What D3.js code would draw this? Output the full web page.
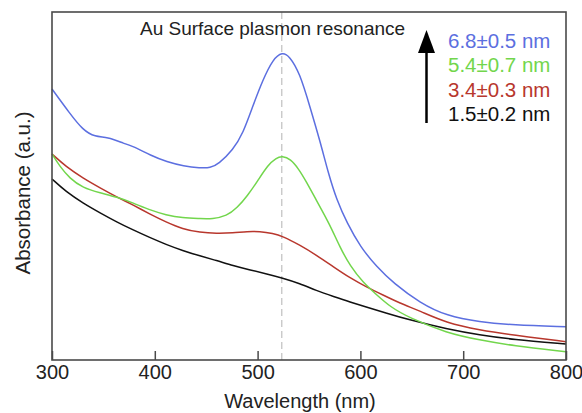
<!DOCTYPE html>
<html><head><meta charset="utf-8">
<script src="https://cdn.jsdelivr.net/npm/d3@7"></script>
<style>
html,body{margin:0;padding:0;background:#fff;}
svg{display:block;font-family:"Liberation Sans",Arial,sans-serif;}
</style></head>
<body><svg id="chart" width="582" height="413"></svg>
<script>
// ---- data (arbitrary absorbance units) ----
const xTicks = [300, 400, 500, 600, 700, 800];
const xLabel = "Wavelength (nm)";
const yLabel = "Absorbance (a.u.)";
const annotation = "Au Surface plasmon resonance";
const sprPeak = 523.5;

const seriesNames = ["6.8\u00b10.5 nm", "5.4\u00b10.7 nm", "3.4\u00b10.3 nm", "1.5\u00b10.2 nm"];
const seriesColors = ["#5c6fe0", "#72d64c", "#b8372d", "#111111"];

const blue68 = [[300,2.71],[317,2.47],[330,2.30],[342,2.23],[354,2.23],[369,2.17],[383,2.12],[395,2.05],[412,1.98],[428,1.94],[444,1.92],[454,1.92],[462,1.96],[476,2.10],[486,2.27],[495,2.53],[505,2.80],[515,3.01],[524,3.08],[531,3.04],[541,2.87],[551,2.53],[561,2.18],[569,1.86],[577,1.60],[587,1.37],[600,1.13],[616,0.93],[632,0.77],[658,0.57],[684,0.44],[716,0.38],[748,0.35],[800,0.333]];
const green54 = [[300,2.06],[308,1.93],[317,1.82],[330,1.72],[347,1.67],[363,1.63],[379,1.57],[395,1.50],[411,1.45],[427,1.42],[444,1.415],[456,1.41],[470,1.44],[480,1.52],[490,1.64],[500,1.79],[510,1.95],[518,2.02],[524,2.04],[532,2.01],[540,1.91],[547,1.79],[557,1.60],[570,1.36],[580,1.13],[590,0.94],[603,0.77],[614,0.67],[629,0.53],[648,0.42],[684,0.27],[716,0.20],[748,0.143],[800,0.083]];
const red34 = [[300,2.06],[314,1.93],[330,1.82],[347,1.72],[363,1.63],[379,1.55],[395,1.46],[411,1.38],[427,1.31],[444,1.275],[460,1.265],[476,1.27],[490,1.285],[502,1.285],[515,1.265],[524,1.24],[541,1.15],[557,1.05],[574,0.93],[590,0.82],[606,0.73],[622,0.65],[638,0.57],[658,0.49],[684,0.37],[716,0.30],[748,0.25],[800,0.183]];
const black15 = [[300,1.81],[314,1.68],[330,1.57],[347,1.47],[363,1.38],[379,1.30],[395,1.225],[411,1.155],[427,1.095],[444,1.04],[460,0.995],[476,0.945],[493,0.90],[509,0.86],[524,0.82],[541,0.765],[557,0.695],[574,0.635],[590,0.58],[606,0.53],[625,0.47],[648,0.40],[684,0.31],[716,0.25],[748,0.205],[800,0.16]];
const seriesData = [blue68, green54, red34, black15];

// ---- layout ----
const svg = d3.select("#chart");
const L = 52, R = 566, T = 12, B = 360;
const x = d3.scaleLinear().domain([300, 800]).range([L, R]);
const y = d3.scaleLinear().domain([0, 3.48]).range([B, T]);

// dashed SPR line
svg.append("line")
  .attr("x1", x(sprPeak)).attr("x2", x(sprPeak))
  .attr("y1", T).attr("y2", B)
  .attr("stroke", "#c4c4c4").attr("stroke-width", 1.3)
  .attr("stroke-dasharray", "7,4");

// curves
const line = d3.line().x(d => x(d[0])).y(d => y(d[1])).curve(d3.curveBasis);
[3, 2, 1, 0].forEach(i => {
  svg.append("path").datum(seriesData[i])
    .attr("d", line).attr("fill", "none")
    .attr("stroke", seriesColors[i]).attr("stroke-width", 1.5);
});

// frame
svg.append("rect").attr("x", L).attr("y", T).attr("width", R - L).attr("height", B - T)
  .attr("fill", "none").attr("stroke", "#4a4a4a").attr("stroke-width", 1.6);

// x axis with inward ticks
const xAxis = d3.axisBottom(x).tickValues(xTicks).tickSize(-9).tickPadding(5).tickFormat(d3.format("d"));
const gx = svg.append("g").attr("transform", `translate(0,${B})`).call(xAxis);
gx.select(".domain").remove();
gx.selectAll(".tick line").attr("stroke", "#4a4a4a").attr("stroke-width", 1.5);
gx.selectAll(".tick text").attr("font-size", 20).attr("fill", "#222")
  .attr("font-family", "Liberation Sans, Arial, sans-serif");

// axis labels
svg.append("text").attr("x", 300).attr("y", 408)
  .attr("text-anchor", "middle").attr("font-size", 20).attr("fill", "#222").text(xLabel);
svg.append("text").attr("transform", `translate(30,193) rotate(-90)`)
  .attr("text-anchor", "middle").attr("font-size", 20.5).attr("fill", "#222").text(yLabel);

// annotation
svg.append("text").attr("x", 140).attr("y", 35).attr("font-size", 19).attr("fill", "#222").text(annotation);

// arrow
const ax = 426.5;
svg.append("line").attr("x1", ax).attr("x2", ax).attr("y1", 123).attr("y2", 50)
  .attr("stroke", "#000").attr("stroke-width", 2.5);
svg.append("path").attr("d", `M${ax},30 L${ax - 8.5},53 L${ax + 8.5},53 Z`).attr("fill", "#000");

// legend texts
seriesNames.forEach((name, i) => {
  svg.append("text").attr("x", 448).attr("y", 48 + i * 24.3)
    .attr("font-size", 20.5).attr("fill", seriesColors[i]).text(name);
});
</script></body></html>
